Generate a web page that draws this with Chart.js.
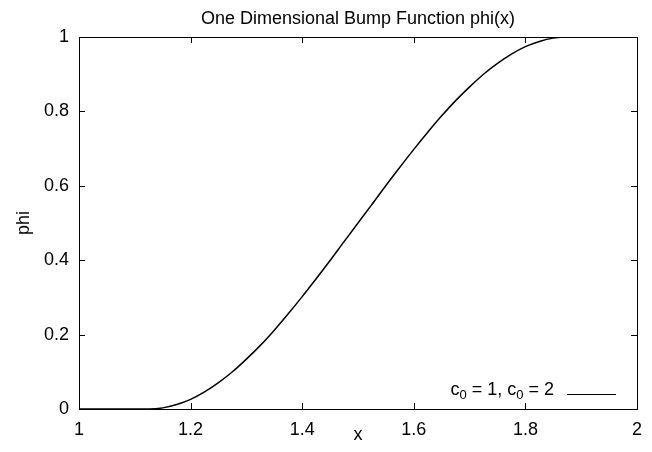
<!DOCTYPE html>
<html>
<head>
<meta charset="utf-8">
<script src="https://cdn.jsdelivr.net/npm/chart.js@4/dist/chart.umd.min.js"></script>
<style>
  html, body { margin: 0; padding: 0; background: #ffffff; }
  #wrap { width: 652px; height: 452px; }
</style>
</head>
<body>
<div id="wrap"><canvas id="c" width="652" height="452"></canvas></div>
<script>
// ---- data ----
const titleText = "One Dimensional Bump Function phi(x)";
const xAxisLabel = "x";
const yAxisLabel = "phi";
const xTicks = [1, 1.2, 1.4, 1.6, 1.8, 2];
const xTickLabels = ["1", "1.2", "1.4", "1.6", "1.8", "2"];
const yTicks = [0, 0.2, 0.4, 0.6, 0.8, 1];
const yTickLabels = ["0", "0.2", "0.4", "0.6", "0.8", "1"];
const xValues = [1.000, 1.025, 1.050, 1.075, 1.100, 1.125, 1.150, 1.175, 1.200, 1.225,
                 1.250, 1.275, 1.300, 1.325, 1.350, 1.375, 1.400, 1.425, 1.450, 1.475,
                 1.500, 1.525, 1.550, 1.575, 1.600, 1.625, 1.650, 1.675, 1.700, 1.725,
                 1.750, 1.775, 1.800, 1.825, 1.850, 1.875, 1.900, 1.925, 1.950, 1.975, 2.000];
const phiValues = [0, 0, 0, 0, 0, 0, 0.003, 0.012, 0.026, 0.046,
                   0.071, 0.100, 0.134, 0.171, 0.212, 0.256, 0.302, 0.350, 0.399, 0.450,
                   0.500, 0.550, 0.601, 0.650, 0.698, 0.744, 0.788, 0.829, 0.866, 0.900,
                   0.929, 0.954, 0.974, 0.988, 0.997, 1, 1, 1, 1, 1, 1];
// legend text "c_0 = 1, c_0 = 2" split into normal / subscript pieces
const legendParts = [
  { t: "c" }, { t: "0", sub: true }, { t: " = 1, c" }, { t: "0", sub: true }, { t: " = 2" }
];

const FONT = '"Liberation Sans", Arial, Helvetica, sans-serif';
const FS = 18;
Chart.defaults.font.family = FONT;
Chart.defaults.font.size = FS;
Chart.defaults.color = '#000000';

const points = xValues.map((x, i) => ({ x: x, y: phiValues[i] }));

const framePlugin = {
  id: 'gnuplotFrame',
  afterDatasetsDraw(chart) {
    const { ctx, chartArea: a, scales } = chart;
    const L = 6;
    ctx.save();
    ctx.strokeStyle = '#000';
    ctx.lineWidth = 1;
    ctx.beginPath();
    xTicks.forEach(v => {
      const px = Math.round(scales.x.getPixelForValue(v)) + 0.5;
      if (px <= a.left + 1 || px >= a.right - 1) return;
      ctx.moveTo(px, a.bottom); ctx.lineTo(px, a.bottom - L);
      ctx.moveTo(px, a.top); ctx.lineTo(px, a.top + L);
    });
    yTicks.forEach(v => {
      const py = Math.round(scales.y.getPixelForValue(v)) + 0.5;
      if (py <= a.top + 1 || py >= a.bottom - 1) return;
      ctx.moveTo(a.left, py); ctx.lineTo(a.left + L, py);
      ctx.moveTo(a.right, py); ctx.lineTo(a.right - L, py);
    });
    ctx.stroke();
    ctx.strokeRect(Math.round(a.left) + 0.5, Math.round(a.top) + 0.5,
                   Math.round(a.right - a.left), Math.round(a.bottom - a.top));

    // legend (bottom right inside plot)
    const ds = chart.data.datasets[0];
    const lineX1 = a.right - 70, lineX2 = a.right - 21;
    const lineY = a.bottom - 14.5;
    ctx.strokeStyle = ds.borderColor;
    ctx.lineWidth = 1.2;
    ctx.beginPath();
    ctx.moveTo(lineX1, lineY); ctx.lineTo(lineX2, lineY);
    ctx.stroke();
    const base = a.bottom - 14;
    const normalFont = FS + 'px ' + FONT;
    const subFont = '13px ' + FONT;
    let total = 0;
    legendParts.forEach(p => { ctx.font = p.sub ? subFont : normalFont; total += ctx.measureText(p.t).width; });
    let x = a.right - 83 - total;
    ctx.fillStyle = '#000';
    ctx.textBaseline = 'alphabetic';
    ctx.textAlign = 'left';
    legendParts.forEach(p => {
      ctx.font = p.sub ? subFont : normalFont;
      ctx.fillText(p.t, x, p.sub ? base + 4 : base);
      x += ctx.measureText(p.t).width;
    });
    ctx.restore();
  }
};

new Chart(document.getElementById('c'), {
  type: 'line',
  data: {
    datasets: [{
      label: 'c0 = 1, c0 = 2',
      data: points,
      borderColor: '#000000',
      borderWidth: 1.5,
      pointRadius: 0,
      fill: false,
      cubicInterpolationMode: 'monotone'
    }]
  },
  options: {
    responsive: false,
    animation: false,
    devicePixelRatio: 1,
    layout: { padding: { left: 0, right: 9, top: 0, bottom: 0 } },
    plugins: {
      legend: { display: false },
      tooltip: { enabled: false },
      title: {
        display: true,
        fullSize: false,
        text: titleText,
        color: '#000',
        font: { size: FS, weight: 'normal', family: FONT },
        padding: { top: 8.7, bottom: 37 - 8.7 - FS * 1.2 }
      }
    },
    scales: {
      x: {
        type: 'linear',
        min: 1, max: 2,
        afterBuildTicks: s => { s.ticks = xTicks.map(v => ({ value: v })); },
        afterFit: s => { s.height = 43; },
        grid: { display: false, drawTicks: false },
        border: { display: false },
        ticks: {
          padding: 10, color: '#000', maxRotation: 0,
          callback: (v, i) => xTickLabels[i]
        },
        title: { display: true, text: xAxisLabel, color: '#000', padding: { top: 0, bottom: 6 } }
      },
      y: {
        type: 'linear',
        min: 0, max: 1,
        afterBuildTicks: s => { s.ticks = yTicks.map(v => ({ value: v })); },
        afterFit: s => { s.width = 79; },
        grid: { display: false, drawTicks: false },
        border: { display: false },
        ticks: {
          padding: 10, color: '#000',
          callback: (v, i) => yTickLabels[i]
        },
        title: { display: true, text: yAxisLabel, color: '#000', padding: { top: 13, bottom: 0 } }
      }
    }
  },
  plugins: [framePlugin]
});
</script>
</body>
</html>
